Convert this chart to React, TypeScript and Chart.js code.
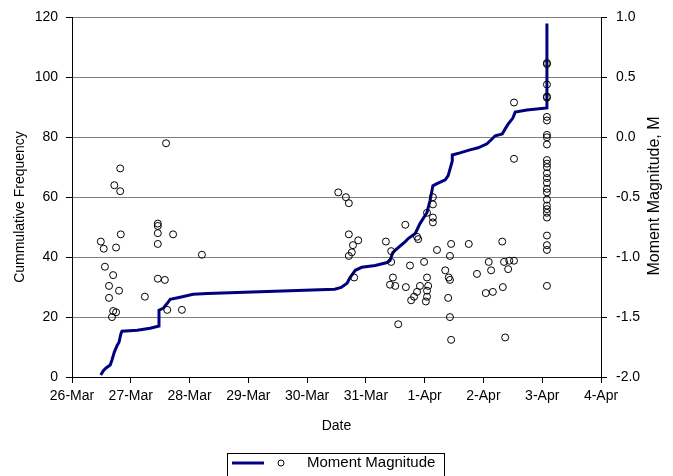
import React, { useEffect, useRef } from 'react';
import { Chart, registerables } from 'chart.js';

Chart.register(...registerables);

// Tick labels for the date axis (day offsets 0..9 from 26-Mar)
const dateLabels = ['26-Mar', '27-Mar', '28-Mar', '29-Mar', '30-Mar', '31-Mar', '1-Apr', '2-Apr', '3-Apr', '4-Apr'];

// Cumulative frequency line (days after 26-Mar, count)
const freqDays = [0.49, 0.53, 0.58, 0.65, 0.68, 0.72, 0.77, 0.80, 0.83, 0.85, 1.11, 1.33, 1.48, 1.48, 1.55, 1.62, 1.67, 1.84, 2.06, 2.30, 4.47, 4.58, 4.68, 4.73, 4.82, 4.93, 5.16, 5.36, 5.41, 5.46, 5.55, 5.67, 5.72, 5.84, 5.92, 6.04, 6.09, 6.14, 6.21, 6.35, 6.40, 6.47, 6.47, 6.60, 6.77, 6.91, 7.06, 7.15, 7.20, 7.32, 7.37, 7.42, 7.50, 7.54, 7.74, 8.08, 8.08];
const freqCounts = [0.7, 2.0, 3.0, 4.0, 5.7, 8.3, 10.6, 11.6, 14.3, 15.3, 15.6, 16.3, 17.0, 22.3, 22.9, 24.6, 25.9, 26.6, 27.6, 27.9, 29.3, 29.9, 31.3, 33.2, 35.6, 36.6, 37.2, 38.2, 38.9, 41.6, 43.2, 45.2, 46.2, 47.9, 51.2, 54.9, 58.8, 63.8, 64.5, 65.8, 67.2, 72.1, 74.1, 74.8, 75.8, 76.5, 77.8, 79.5, 80.5, 81.1, 82.8, 84.4, 86.4, 88.4, 89.1, 89.8, 118.0];

// Moment magnitude events (days after 26-Mar, M)
const magDays = [
  0.49, 0.54, 0.56, 0.63, 0.63, 0.70, 0.70, 0.75, 0.68, 0.75, 0.80, 0.72, 0.82, 0.82, 0.83,
  1.24, 1.46, 1.46, 1.46, 1.46, 1.46, 1.58, 1.60, 1.62, 1.72, 1.87, 2.21,
  4.53, 4.66, 4.71, 4.71, 4.87, 4.78, 4.76, 4.71, 4.80,
  5.34, 5.43, 5.43, 5.67, 5.87, 5.89, 6.21, 5.99, 5.75, 5.46, 5.41, 5.50, 5.68, 5.92, 6.04, 6.06,
  5.87, 5.82, 5.77, 6.04, 6.04, 6.02, 5.55, 6.14, 6.14, 6.04, 6.14, 6.14,
  6.35, 6.41, 6.43, 6.40, 6.43, 6.45, 6.45, 6.43,
  6.75, 7.32, 7.09, 7.35, 7.44, 7.52, 6.89, 7.13, 7.42, 7.04, 7.16, 7.33, 7.37, 7.52, 7.52,
  8.08, 8.08, 8.08, 8.08, 8.08, 8.08, 8.08, 8.08, 8.08, 8.08, 8.08, 8.08, 8.08, 8.08,
  8.08, 8.08, 8.08, 8.08, 8.08, 8.08, 8.08, 8.08, 8.08, 8.08, 8.08, 8.08, 8.08,
];
const magValues = [
  -0.87, -0.93, -1.08, -1.24, -1.34, -1.15, -1.45, -1.46, -1.50, -0.92, -1.28, -0.40, -0.26, -0.45, -0.81,
  -1.33, -0.72, -0.74, -0.80, -0.89, -1.18, -1.19, -0.05, -1.44, -0.81, -1.44, -0.98,
  -0.46, -0.50, -0.55, -0.81, -0.86, -0.90, -0.96, -0.99, -1.17,
  -0.87, -0.95, -1.04, -0.73, -0.83, -0.85, -0.94, -1.04, -1.07, -1.17, -1.23, -1.24, -1.25, -1.24, -1.17, -1.24,
  -1.29, -1.33, -1.36, -1.28, -1.33, -1.37, -1.56, -0.50, -0.56, -0.63, -0.67, -0.71,
  -1.11, -1.17, -1.19, -1.34, -1.50, -1.69, -0.89, -0.99,
  -0.89, -0.87, -1.04, -1.04, -1.03, -1.03, -1.14, -1.11, -1.10, -1.30, -1.29, -1.25, -1.67, 0.29, -0.18,
  0.62, 0.61, 0.44, 0.34, 0.33, 0.17, 0.14, 0.02, 0.00, -0.06, -0.19, -0.22, -0.25, -0.30,
  -0.34, -0.38, -0.43, -0.46, -0.52, -0.57, -0.60, -0.63, -0.67, -0.82, -0.90, -0.94, -1.24,
];

const FONT = "'Liberation Sans', Arial, sans-serif";
const leftTitle = 'Cummulative Frequency';
const rightTitle = 'Moment Magnitude, M';
const legendLabel = 'Moment Magnitude';

export default function App() {
  const ref = useRef<HTMLCanvasElement>(null);

  useEffect(() => {
    const canvas = ref.current;
    if (!canvas) return;

    const decorPlugin = {
      id: 'decor',
      afterDraw(chart: any) {
        const ctx = chart.ctx;
        ctx.save();
        // axis titles, both reading bottom-to-top
        ctx.fillStyle = '#000';
        ctx.textAlign = 'center';
        ctx.textBaseline = 'middle';
        ctx.font = `14px ${FONT}`;
        ctx.save();
        ctx.translate(20, 207);
        ctx.rotate(-Math.PI / 2);
        ctx.fillText(leftTitle, 0, 0);
        ctx.restore();
        ctx.font = `16px ${FONT}`;
        ctx.save();
        ctx.translate(655, 196);
        ctx.rotate(-Math.PI / 2);
        ctx.fillText(rightTitle, 0, 0);
        ctx.restore();

        // legend
        ctx.strokeStyle = '#000';
        ctx.lineWidth = 1;
        ctx.strokeRect(227.5, 453.5, 217, 30);
        ctx.strokeStyle = '#000080';
        ctx.lineWidth = 3;
        ctx.beginPath();
        ctx.moveTo(232, 463);
        ctx.lineTo(264, 463);
        ctx.stroke();
        ctx.strokeStyle = '#000';
        ctx.lineWidth = 1;
        ctx.beginPath();
        ctx.arc(281, 463, 3, 0, Math.PI * 2);
        ctx.stroke();
        ctx.font = `15px ${FONT}`;
        ctx.textAlign = 'left';
        ctx.fillText(legendLabel, 307, 463);
        ctx.restore();
      },
    };

    const chart = new Chart(canvas, {
      type: 'scatter',
      data: {
        datasets: [
          {
            label: 'Moment Magnitude',
            data: magDays.map((d, i) => ({ x: d, y: magValues[i] })),
            yAxisID: 'y2',
            pointStyle: 'circle',
            pointRadius: 3.5,
            pointHoverRadius: 3.5,
            pointBorderColor: '#000',
            pointBackgroundColor: 'rgba(0,0,0,0)',
            pointBorderWidth: 1,
            showLine: false,
          } as any,
          {
            label: '',
            type: 'line',
            data: freqDays.map((d, i) => ({ x: d, y: freqCounts[i] })),
            yAxisID: 'y',
            borderColor: '#000080',
            borderWidth: 3,
            pointRadius: 0,
            showLine: true,
            fill: false,
            tension: 0,
          } as any,
        ],
      },
      options: {
        animation: false,
        responsive: false,
        font: { family: FONT, size: 14 },
        layout: { padding: { top: 16, bottom: 39, left: 0, right: 0 } },
        plugins: { legend: { display: false }, tooltip: { enabled: false } },
        scales: {
          x: {
            type: 'linear',
            min: 0,
            max: 9,
            ticks: {
              stepSize: 1,
              color: '#000',
              padding: 5,
              maxRotation: 0,
              autoSkip: false,
              font: { family: FONT, size: 14 },
              callback: (v: any) => dateLabels[Math.round(Number(v))] ?? '',
            },
            grid: { drawOnChartArea: false, tickLength: 6, tickColor: '#000' },
            border: { color: '#000', width: 1 },
            title: { display: true, text: 'Date', color: '#000', font: { family: FONT, size: 14 }, padding: { top: 0, bottom: 2 } },
            afterFit: (s: any) => { s.height = 60; },
          },
          y: {
            position: 'left',
            min: 0,
            max: 120,
            ticks: { stepSize: 20, color: '#000', padding: 8, font: { family: FONT, size: 14 } },
            grid: { color: '#808080', tickLength: 6, tickColor: '#000' },
            border: { color: '#000', width: 1 },
            title: { display: false },
            afterFit: (s: any) => { s.width = 72; },
          },
          y2: {
            position: 'right',
            min: -2,
            max: 1,
            ticks: {
              stepSize: 0.5,
              color: '#000',
              padding: 9,
              font: { family: FONT, size: 14 },
              callback: (v: any) => Number(v).toFixed(1),
            },
            grid: { drawOnChartArea: false, tickLength: 6, tickColor: '#000' },
            border: { color: '#000', width: 1 },
            title: { display: false },
            afterFit: (s: any) => { s.width = 72; },
          },
        },
      } as any,
      plugins: [decorPlugin],
    });

    return () => chart.destroy();
  }, []);

  return (
    <div style={{ position: 'absolute', left: 0, top: 0, width: 673, height: 476, background: '#fff' }}>
      <canvas ref={ref} width={673} height={476} style={{ display: 'block', width: 673, height: 476 }} />
    </div>
  );
}
